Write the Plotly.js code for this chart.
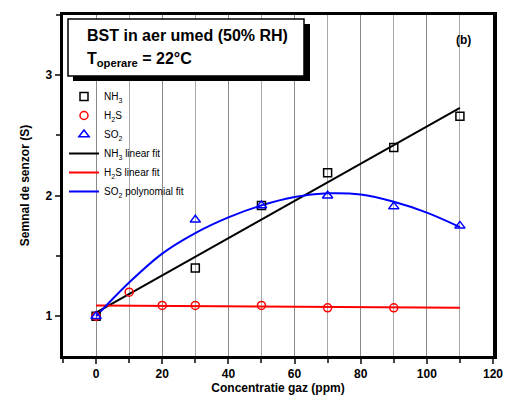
<!DOCTYPE html>
<html><head><meta charset="utf-8">
<script src="https://cdn.plot.ly/plotly-3.0.1.min.js"></script>
<style>html,body{margin:0;padding:0;background:#fff}#c{width:507px;height:396px}</style>
</head><body><div id="c"></div>
<script>
// Data
const nh3X = [0, 30, 50, 70, 90, 110];
const nh3Y = [1.0, 1.40, 1.92, 2.19, 2.40, 2.66];
const h2sX = [0, 10, 20, 30, 50, 70, 90];
const h2sY = [1.0, 1.20, 1.09, 1.09, 1.09, 1.07, 1.07];
const so2X = [0, 30, 50, 70, 90, 110];
const so2Y = [1.0, 1.80, 1.92, 2.00, 1.91, 1.75];
const linFitX = [0, 110];
const nh3FitY = [1.03, 2.73];
const h2sFitY = [1.09, 1.07];
const polyFitX = [0, 10, 20, 30, 40, 50, 60, 70, 80, 90, 100, 110];
const so2FitY = [1.0, 1.28, 1.52, 1.69, 1.82, 1.92, 1.99, 2.02, 2.01, 1.95, 1.86, 1.74];
const xTicks = [0, 20, 40, 60, 80, 100, 120];
const yTicks = [1, 2, 3];

const L = 63, R = 493, T = 15, B = 356;
const px = v => (v - L) / (R - L);
const py = v => 1 - (v - T) / (B - T);
const F = 'Liberation Sans, Arial, sans-serif';

const traces = [
  {x: linFitX, y: nh3FitY, mode: 'lines', name: 'NH<sub>3</sub> linear fit', line: {color: '#000', width: 2}, legendrank: 4},
  {x: linFitX, y: h2sFitY, mode: 'lines', name: 'H<sub>2</sub>S linear fit', line: {color: '#ff0000', width: 2}, legendrank: 5},
  {x: polyFitX, y: so2FitY, mode: 'lines', name: 'SO<sub>2</sub> polynomial fit', line: {color: '#0000ff', width: 2, shape: 'spline'}, legendrank: 6},
  {x: nh3X, y: nh3Y, mode: 'markers', name: 'NH<sub>3</sub>', marker: {symbol: 'square-open', size: 8, color: '#000', line: {width: 1.5}}, legendrank: 1},
  {x: h2sX, y: h2sY, mode: 'markers', name: 'H<sub>2</sub>S', marker: {symbol: 'circle-open', size: 8, color: '#ff0000', line: {width: 1.5}}, legendrank: 2},
  {x: so2X, y: so2Y, mode: 'markers', name: 'SO<sub>2</sub>', marker: {symbol: 'triangle-up-open', size: 9, color: '#0000ff', line: {width: 1.5}}, legendrank: 3}
];

const layout = {
  width: 507, height: 396,
  margin: {l: L, r: 507 - R, t: T, b: 396 - B},
  paper_bgcolor: '#fff', plot_bgcolor: '#fff',
  font: {family: F, color: '#000'},
  showlegend: true,
  legend: {x: px(64), y: py(82), xanchor: 'left', yanchor: 'top', bgcolor: 'rgba(0,0,0,0)',
           font: {size: 10, family: F}, tracegroupgap: 0, itemwidth: 30, traceorder: 'normal'},
  xaxis: {range: [-10, 120], tickvals: xTicks, ticks: 'outside', ticklen: 5, tickwidth: 2,
          showline: true, linewidth: 3, linecolor: '#000', mirror: true, zeroline: false,
          showgrid: true, gridcolor: '#8a8a8a', gridwidth: 1,
          minor: {dtick: 10, tick0: 0, ticks: 'outside', ticklen: 4, tickwidth: 2, showgrid: true, gridcolor: '#a8a8a8', gridwidth: 1},
          tickfont: {size: 12, family: F, weight: 'bold'},
          title: {text: '<b>Concentratie gaz (ppm)</b>', font: {size: 12, family: F}, standoff: 2}},
  yaxis: {range: [0.67, 3.5], tickvals: yTicks, ticks: 'outside', ticklen: 5, tickwidth: 2,
          showline: true, linewidth: 3.5, linecolor: '#000', mirror: true, zeroline: false, showgrid: false,
          minor: {dtick: 0.5, tick0: 0, ticks: 'outside', ticklen: 4, tickwidth: 2, showgrid: false},
          tickfont: {size: 12, family: F, weight: 'bold'},
          title: {text: '<b>Semnal de senzor (S)</b>', font: {size: 12, family: F}, standoff: 14}},
  shapes: [
    {type: 'rect', xref: 'paper', yref: 'paper', x0: px(73), x1: px(310), y0: py(24), y1: py(81), fillcolor: '#000', line: {width: 0}},
    {type: 'rect', xref: 'paper', yref: 'paper', x0: px(68), x1: px(304), y0: py(19), y1: py(76), fillcolor: '#fff', line: {color: '#000', width: 1.5}}
  ],
  annotations: [
    {xref: 'paper', yref: 'paper', x: px(85), y: py(36), xanchor: 'left', yanchor: 'middle', showarrow: false,
     text: '<b>BST in aer umed (50% RH)</b>', font: {size: 16, family: F}},
    {xref: 'paper', yref: 'paper', x: px(85), y: py(59), xanchor: 'left', yanchor: 'middle', showarrow: false,
     text: '<b>T<sub>operare</sub> = 22°C</b>', font: {size: 16, family: F}},
    {xref: 'paper', yref: 'paper', x: px(463), y: py(40), xanchor: 'center', yanchor: 'middle', showarrow: false,
     text: '<b>(b)</b>', font: {size: 12, family: F}}
  ]
};

Plotly.newPlot('c', traces, layout, {displayModeBar: false, staticPlot: true});
</script></body></html>
